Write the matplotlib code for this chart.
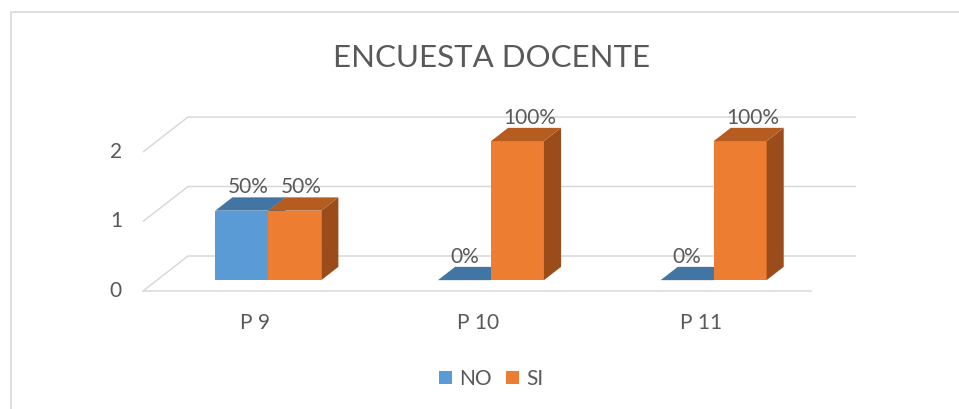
import matplotlib
matplotlib.use("Agg")
from matplotlib import pyplot as plt
from matplotlib.patches import Polygon, Patch
from matplotlib.lines import Line2D
from matplotlib.transforms import offset_copy

# Chart data
categories = ["P 9", "P 10", "P 11"]
series_names = ["NO", "SI"]
no_values = [1, 0, 0]
si_values = [1, 2, 2]
no_labels = ["50%", "0%", "0%"]
si_labels = ["50%", "100%", "100%"]
y_ticks = [0, 1, 2]

# Colours (front, top, side)
colors = {
    "NO": ("#5B9BD5", "#4375A4", "#3A6690"),
    "SI": ("#ED7D31", "#B55C21", "#9A4C1B"),
}
text_color = "#595959"
grid_color = "#D9D9D9"

plt.rcParams["font.family"] = ["Lato", "DejaVu Sans"]

# Pixel layout of the pseudo 3D box
W, H = 959, 409
floor_left, floor_right, floor_y = 143, 811, 291
unit_px = 69.5
depth_dx, depth_dy = 45, 35
cat_px = (floor_right - floor_left) / len(categories)

fig = plt.figure(figsize=(W / 100, H / 100), dpi=100)
ax = fig.add_axes([0, 0, 1, 1])
ax.set_xlim(-floor_left / cat_px, (W - floor_left) / cat_px)
ax.set_ylim((floor_y - H) / unit_px, floor_y / unit_px)
ax.axis("off")

DX = depth_dx / cat_px
DY = depth_dy / unit_px


def proj(x, v, d):
    """Project a (category x, value, depth) point onto the axes plane."""
    return x + d * DX, v + d * DY


# Walls and floor gridlines
n = len(categories)
for v in y_ticks:
    pts = [proj(0, v, 0), proj(0, v, 1), proj(n, v, 1)]
    ax.plot([p[0] for p in pts], [p[1] for p in pts], color=grid_color, lw=1.1,
            solid_capstyle="butt", zorder=1)
p0, p1 = proj(0, 0, 0), proj(n, 0, 0)
ax.plot([p0[0], p1[0]], [p0[1], p1[1]], color=grid_color, lw=1.1, zorder=1)

# Y tick labels
tick_tr = offset_copy(ax.transData, fig=fig, x=-21, y=0, units="dots")
for v in y_ticks:
    ax.text(*proj(0, v, 0), str(v), transform=tick_tr, ha="right", va="center",
            fontsize=15, color=text_color)

# Bars
bar_w = 53 / cat_px
d0, d1 = 0.31, 0.69
label_tr = offset_copy(ax.transData, fig=fig, x=0, y=4, units="dots")
for i, cat in enumerate(categories):
    center = i + 0.5
    for s, (name, vals, labs) in enumerate(
            [("NO", no_values, no_labels), ("SI", si_values, si_labels)]):
        v = vals[i]
        xl = center - bar_w + s * bar_w
        xr = xl + bar_w
        front, top, side = colors[name]
        if v > 0:
            ax.add_patch(Polygon([proj(xl, 0, d0), proj(xr, 0, d0), proj(xr, v, d0), proj(xl, v, d0)],
                                 closed=True, facecolor=front, edgecolor="none", zorder=3))
            ax.add_patch(Polygon([proj(xr, 0, d0), proj(xr, 0, d1), proj(xr, v, d1), proj(xr, v, d0)],
                                 closed=True, facecolor=side, edgecolor="none", zorder=3))
        ax.add_patch(Polygon([proj(xl, v, d0), proj(xr, v, d0), proj(xr, v, d1), proj(xl, v, d1)],
                             closed=True, facecolor=top, edgecolor="none", zorder=3))
        lx = proj(xl + bar_w / 2, v, d0 + 0.14 * v)[0]
        ly = proj(xl, v, d1)[1]
        ax.text(lx, ly, labs[i], transform=label_tr, ha="center", va="baseline",
                fontsize=15, color=text_color, zorder=4)

    # Category label
    ax.text(*proj(center, 0, 0), cat, transform=offset_copy(ax.transData, fig=fig, x=1, y=-38, units="dots"),
            ha="center", va="baseline", fontsize=15, color=text_color)

# Title
fig.text(491.5 / W, 1 - 67 / H, "ENCUESTA DOCENTE", ha="center", va="baseline",
         fontsize=22.5, color=text_color)

# Legend
handles = [Patch(facecolor=colors[nm][0], edgecolor="none", label=nm) for nm in series_names]
fig.legend(handles=handles, loc="center", bbox_to_anchor=(491 / W, 1 - 379 / H), ncol=2,
           frameon=False, fontsize=15, handlelength=0.62, handleheight=0.62,
           handletextpad=0.33, columnspacing=0.7, labelcolor=text_color)

# Chart area border (left and top edges visible in crop)
fig.add_artist(Line2D([10.5 / W, 10.5 / W, 1], [0, 1 - 11.5 / H, 1 - 11.5 / H],
                      transform=fig.transFigure, color=grid_color, lw=1.2))

fig.savefig("out.png", dpi=100)
